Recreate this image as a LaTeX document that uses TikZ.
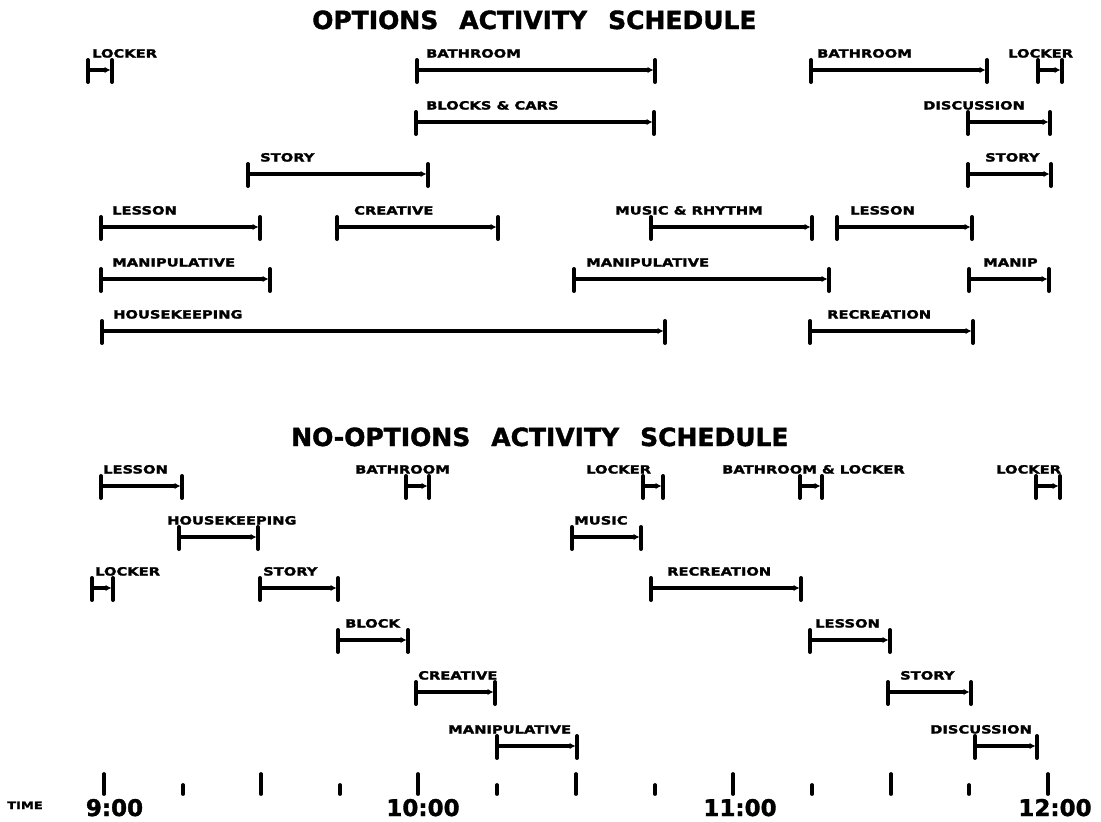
\documentclass[tikz,border=0pt]{standalone}
\usepackage{fontspec}
\setmainfont{DejaVu Sans}
\newfontfamily\labfont[FakeStretch=1.30,FakeBold=2]{DejaVu Sans Bold}
\newfontfamily\titlefont[FakeBold=1.5]{DejaVu Sans Bold}
\usetikzlibrary{arrows.meta}
\tikzset{
  barline/.style={line width=3.2pt, -{Latex[length=6pt,width=6.5pt]}},
  capline/.style={line width=4pt, line cap=round},
  lab/.style={font=\labfont\fontsize{11.3}{13}\selectfont, inner sep=0pt, anchor=base west},
  ttl/.style={font=\titlefont\fontsize{25}{28}\selectfont, inner sep=0pt, anchor=base west},
  timelab/.style={font=\titlefont\fontsize{23}{25}\selectfont, inner sep=0pt, anchor=base},
  tickline/.style={line width=3.8pt, line cap=round}
}
% #1 name, #2 x start, #3 x end, #4 y, #5 label x, #6 label text
\newcommand\actbar[6]{%
  \coordinate (#1-a) at (#2,#4);
  \coordinate (#1-b) at (#3,#4);
  \draw[barline] (#1-a) -- ([xshift=-1.5pt]#1-b);
  \draw[capline] ([yshift=10pt]#1-a) -- ([yshift=-12pt]#1-a);
  \draw[capline] ([yshift=10pt]#1-b) -- ([yshift=-12pt]#1-b);
  \node[lab] (#1-l) at (#5,#4-12.5) {#6};
}
\begin{document}
\begin{tikzpicture}[x=1pt,y=-1pt]
\useasboundingbox (0,0) rectangle (1101,822);
\fill[white] (0,0) rectangle (1101,822);

% Titles
\node[ttl] (title1) at (312,29) {OPTIONS\hspace{21pt}ACTIVITY\hspace{21pt}SCHEDULE};
\node[ttl] (title2) at (291,446) {NO-OPTIONS\hspace{21pt}ACTIVITY\hspace{21pt}SCHEDULE};

% Options schedule
\actbar{olockA}{88}{112}{70}{92}{LOCKER}
\actbar{obathA}{417}{655}{70}{426}{BATHROOM}
\actbar{obathB}{811}{987}{70}{817}{BATHROOM}
\actbar{olockB}{1038}{1062}{70}{1008}{LOCKER}

\actbar{oblocks}{416}{654}{122}{426}{BLOCKS \& CARS}
\actbar{odisc}{968}{1050}{122}{923}{DISCUSSION}

\actbar{ostoryA}{248}{428}{174}{260}{STORY}
\actbar{ostoryB}{968}{1051}{174}{985}{STORY}

\actbar{olessA}{101}{260}{227}{112}{LESSON}
\actbar{ocreat}{337}{498}{227}{354}{CREATIVE}
\actbar{omusic}{651}{812}{227}{615}{MUSIC \& RHYTHM}
\actbar{olessB}{837}{972}{227}{850}{LESSON}

\actbar{omanA}{101}{270}{279}{112}{MANIPULATIVE}
\actbar{omanB}{574}{829}{279}{586}{MANIPULATIVE}
\actbar{omanC}{969}{1049}{279}{983}{MANIP}

\actbar{ohouse}{102}{665}{331}{113}{HOUSEKEEPING}
\actbar{orecr}{810}{973}{331}{827}{RECREATION}

% No-options schedule
\actbar{nless}{101}{182}{486}{103}{LESSON}
\actbar{nbath}{406}{429}{486}{355}{BATHROOM}
\actbar{nlockA}{643}{663}{486}{586}{LOCKER}
\actbar{nbathlock}{800}{822}{486}{722}{BATHROOM \& LOCKER}
\actbar{nlockB}{1036}{1060}{486}{996}{LOCKER}

\actbar{nhouse}{179}{258}{537}{167}{HOUSEKEEPING}
\actbar{nmusic}{572}{641}{537}{574}{MUSIC}

\actbar{nlockC}{92}{113}{588}{95}{LOCKER}
\actbar{nstoryA}{260}{338}{588}{263}{STORY}
\actbar{nrecr}{651}{801}{588}{667}{RECREATION}

\actbar{nblock}{338}{408}{640}{345}{BLOCK}
\actbar{nlessB}{810}{890}{640}{815}{LESSON}

\actbar{ncreat}{416}{495}{692}{418}{CREATIVE}
\actbar{nstoryB}{888}{971}{692}{900}{STORY}

\actbar{nman}{497}{577}{746}{448}{MANIPULATIVE}
\actbar{ndisc}{975}{1037}{746}{930}{DISCUSSION}

% Time axis
\foreach \x in {104,261,418,576,733,891,1048} \draw[tickline] (\x,774) -- (\x,794);
\foreach \x in {183,340,497,655,812,969} \draw[tickline] (\x,785) -- (\x,794);
\node[lab, anchor=base, font=\labfont\fontsize{10}{11}\selectfont] (timeword) at (25,809) {TIME};
\node[timelab] (t9) at (114.5,816) {9:00};
\node[timelab] (t10) at (423,816) {10:00};
\node[timelab] (t11) at (740,816) {11:00};
\node[timelab] (t12) at (1055,816) {12:00};
\end{tikzpicture}
\end{document}
